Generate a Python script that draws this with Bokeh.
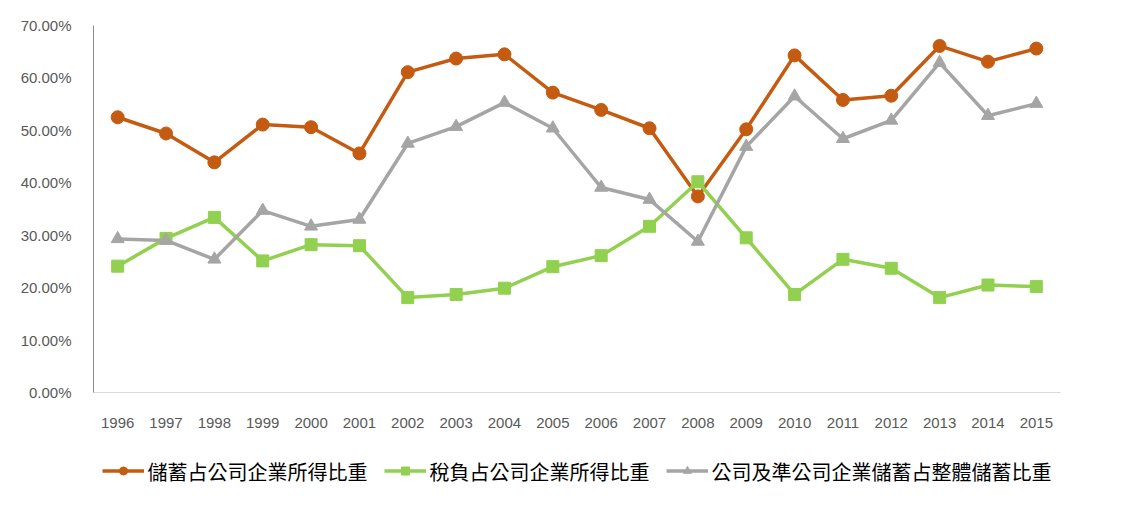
from bokeh.plotting import figure
from bokeh.layouts import column
from bokeh.models import FactorRange, Range1d, FixedTicker, PrintfTickFormatter, Legend, LegendItem
from bokeh.embed import file_html
from bokeh.resources import INLINE

years = [str(y) for y in range(1996, 2016)]
savings_share = [52.5, 49.4, 43.9, 51.1, 50.6, 45.6, 61.1, 63.7, 64.5, 57.2,
                 53.9, 50.4, 37.4, 50.2, 64.3, 55.8, 56.6, 66.1, 63.1, 65.6]
tax_share = [24.1, 29.4, 33.4, 25.1, 28.2, 28.0, 18.1, 18.7, 19.9, 24.0,
             26.1, 31.7, 40.2, 29.5, 18.7, 25.4, 23.7, 18.1, 20.5, 20.2]
corp_share = [29.3, 29.0, 25.4, 34.7, 31.7, 33.0, 47.5, 50.7, 55.3, 50.4,
              39.1, 36.8, 28.8, 46.9, 56.5, 48.4, 51.9, 62.9, 52.8, 55.1]
y_ticks = [0, 10, 20, 30, 40, 50, 60, 70]
names = ["儲蓄占公司企業所得比重", "稅負占公司企業所得比重", "公司及準公司企業儲蓄占整體儲蓄比重"]
colors = ["#C55A11", "#92D050", "#A5A5A5"]
markers = ["circle", "square", "triangle"]

p = figure(width=1118, height=432, x_range=FactorRange(*years), y_range=Range1d(0, 70),
           output_backend="svg", toolbar_location=None,
           min_border_left=93, min_border_right=58, min_border_top=25, min_border_bottom=40)
p.xgrid.visible = False
p.ygrid.visible = False
p.outline_line_color = None

p.yaxis.ticker = FixedTicker(ticks=y_ticks)
p.yaxis.formatter = PrintfTickFormatter(format="%.2f%%")
for ax in (p.xaxis, p.yaxis):
    ax.major_tick_line_color = None
    ax.minor_tick_line_color = None
    ax.major_label_text_font = "Liberation Sans"
    ax.major_label_text_font_size = "15px"
    ax.major_label_text_color = "#595959"
p.yaxis.axis_line_color = "#8C8C8C"
p.xaxis.axis_line_color = "#D9D9D9"
p.yaxis.major_label_standoff = 16
p.xaxis.major_label_standoff = 19
p.x_range.range_padding = 0

series = [savings_share, tax_share, corp_share]
sizes = [13, 12, 13]
for vals, col, mk, sz in zip(series, colors, markers, sizes):
    p.line(years, vals, line_color=col, line_width=3.5)
    p.scatter(years, vals, marker=mk, size=sz, fill_color=col, line_color=col)

# legend strip below the chart (its own renderers sit outside the visible range)
p2 = figure(width=1118, height=77, x_range=Range1d(0, 1), y_range=Range1d(0, 1),
            output_backend="svg", toolbar_location=None,
            min_border_left=0, min_border_right=0, min_border_top=0, min_border_bottom=0)
p2.axis.visible = False
p2.grid.visible = False
p2.outline_line_color = None
items = []
for name, col, mk, sz in zip(names, colors, markers, sizes):
    ln = p2.line([-10, -9], [-10, -9], line_color=col, line_width=3.5)
    sc = p2.scatter([-10], [-10], marker=mk, size=sz, fill_color=col, line_color=col)
    items.append(LegendItem(label=name, renderers=[ln, sc]))
legend = Legend(items=items, orientation="horizontal", location="center",
                label_text_font="Noto Sans CJK TC", label_text_font_size="20px",
                label_text_color="#000000", glyph_width=42, glyph_height=20,
                label_standoff=4, spacing=16, padding=0, margin=0,
                border_line_color=None, background_fill_alpha=0)
p2.add_layout(legend, "center")

layout = column(p, p2, spacing=0)
open("out.html", "w").write(file_html(layout, INLINE))
